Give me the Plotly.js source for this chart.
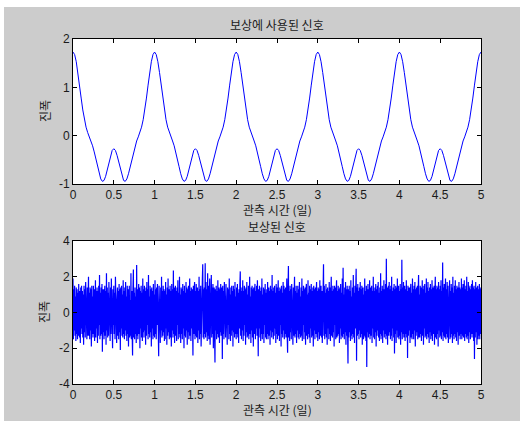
<!DOCTYPE html>
<html>
<head>
<meta charset="utf-8">
<script src="https://cdn.plot.ly/plotly-3.0.1.min.js"></script>
<style>
html,body{margin:0;padding:0;background:#ffffff;}
#fig{position:absolute;left:4px;top:7px;width:516px;height:414px;}
</style>
</head>
<body>
<div id="fig"></div>
<script>
// ---- data ----
const topTitle = "보상에 사용된 신호";
const bottomTitle = "보상된 신호";
const xLabel = "관측 시간 (일)";
const yLabel = "진폭";

// reference signal, sampled every 0.02 day from 0 to 5
const refStep = 0.02;
const refSignal = [
1.73,1.678,1.53,1.309,1.046,0.778,0.532,0.33,0.176,0.064,-0.025,-0.11,-0.21,-0.336,-0.485,-0.642,-0.788,-0.895,-0.945,-0.926,-0.841,-0.706,-0.551,-0.407,-0.306,
-0.27,-0.306,-0.407,-0.551,-0.706,-0.841,-0.926,-0.945,-0.895,-0.788,-0.642,-0.485,-0.336,-0.21,-0.11,-0.025,0.064,0.176,0.33,0.532,0.778,1.046,1.309,1.53,1.678,
1.73,1.678,1.53,1.309,1.046,0.778,0.532,0.33,0.176,0.064,-0.025,-0.11,-0.21,-0.336,-0.485,-0.642,-0.788,-0.895,-0.945,-0.926,-0.841,-0.706,-0.551,-0.407,-0.306,
-0.27,-0.306,-0.407,-0.551,-0.706,-0.841,-0.926,-0.945,-0.895,-0.788,-0.642,-0.485,-0.336,-0.21,-0.11,-0.025,0.064,0.176,0.33,0.532,0.778,1.046,1.309,1.53,1.678,
1.73,1.678,1.53,1.309,1.046,0.778,0.532,0.33,0.176,0.064,-0.025,-0.11,-0.21,-0.336,-0.485,-0.642,-0.788,-0.895,-0.945,-0.926,-0.841,-0.706,-0.551,-0.407,-0.306,
-0.27,-0.306,-0.407,-0.551,-0.706,-0.841,-0.926,-0.945,-0.895,-0.788,-0.642,-0.485,-0.336,-0.21,-0.11,-0.025,0.064,0.176,0.33,0.532,0.778,1.046,1.309,1.53,1.678,
1.73,1.678,1.53,1.309,1.046,0.778,0.532,0.33,0.176,0.064,-0.025,-0.11,-0.21,-0.336,-0.485,-0.642,-0.788,-0.895,-0.945,-0.926,-0.841,-0.706,-0.551,-0.407,-0.306,
-0.27,-0.306,-0.407,-0.551,-0.706,-0.841,-0.926,-0.945,-0.895,-0.788,-0.642,-0.485,-0.336,-0.21,-0.11,-0.025,0.064,0.176,0.33,0.532,0.778,1.046,1.309,1.53,1.678,
1.73,1.678,1.53,1.309,1.046,0.778,0.532,0.33,0.176,0.064,-0.025,-0.11,-0.21,-0.336,-0.485,-0.642,-0.788,-0.895,-0.945,-0.926,-0.841,-0.706,-0.551,-0.407,-0.306,
-0.27,-0.306,-0.407,-0.551,-0.706,-0.841,-0.926,-0.945,-0.895,-0.788,-0.642,-0.485,-0.336,-0.21,-0.11,-0.025,0.064,0.176,0.33,0.532,0.778,1.046,1.309,1.53,1.678,
1.73
];

// compensated (noisy) signal, sampled every 0.005 day from 0 to 5
const noisyStep = 0.005;
const noisySignal = [
1.9,-1.5,1.3,-1.0,1.5,-1.3,0.9,-1.6,1.4,-1.2,1.3,-1.5,1.1,-1.3,1.6,-0.7,-1.4,1.2,-1.7,1.4,-0.9,1.5,-1.2,1.2,-1.4,
1.0,-1.8,1.5,-1.1,1.3,-1.4,1.7,-0.7,1.2,-1.5,1.4,-1.3,0.7,2.0,-1.3,1.1,-1.5,1.4,-1.0,1.3,-1.9,1.5,-1.2,0.9,-1.4,
1.5,-1.2,1.3,-1.6,1.0,1.8,-1.4,1.2,-0.9,1.4,-1.7,1.2,-1.3,1.5,-0.7,2.1,-1.5,1.1,-1.3,1.4,-1.2,1.6,-2.2,1.3,-1.1,
1.3,-1.5,0.9,1.5,-1.3,1.2,-1.8,2.2,-1.0,1.4,-1.4,1.1,-1.3,1.7,-0.9,1.2,-1.6,1.4,-1.2,1.9,-1.4,1.0,-2.0,1.3,-0.7,
1.5,-1.2,1.1,-1.5,2.0,-1.0,1.3,-1.7,0.7,1.4,-1.3,1.2,-1.5,1.6,-1.1,1.3,-2.1,1.4,-0.9,1.5,-1.3,1.0,-1.4,1.8,-1.2,
1.2,-1.5,1.4,-1.0,1.7,-1.3,0.9,-1.6,1.5,-1.2,1.3,-1.9,1.1,1.5,-1.4,0.7,-1.3,2.2,-1.5,1.2,-1.1,-2.4,1.3,2.4,-1.4,
1.1,-1.5,1.4,-1.2,0.9,-1.7,2.65,-1.3,1.3,-1.5,1.0,1.6,-1.2,1.4,-2.0,1.2,-0.9,1.5,-1.4,1.1,-1.6,1.9,-1.1,1.3,-1.4,
1.5,-1.0,1.2,-1.8,1.4,-1.3,1.7,-0.7,1.3,-1.5,2.1,-1.2,0.9,-1.4,1.5,-1.1,1.3,-1.9,1.4,-0.9,1.2,-1.5,1.6,-1.3,1.0,
-1.4,1.8,-1.2,1.3,-1.5,1.4,-0.7,1.6,-1.3,1.1,-2.45,1.5,-1.2,0.9,-1.7,1.4,-1.0,2.0,-1.4,1.2,-1.3,1.5,-1.1,1.3,-1.6,
1.2,-1.5,1.7,-0.9,1.0,-1.8,1.4,-1.3,1.9,-1.1,1.3,-1.5,0.7,1.5,-1.4,1.2,-1.9,1.6,-1.0,1.3,-1.4,2.35,-1.2,1.4,-1.7,
0.9,1.5,-1.3,1.2,-1.6,1.4,-0.7,1.8,-1.5,1.1,-1.2,2.0,-1.4,1.0,-1.7,1.4,-1.2,1.3,-1.5,1.6,-0.9,1.2,-2.0,1.5,-1.3,
1.1,-1.4,1.7,-1.0,1.4,-1.8,1.3,-1.1,1.5,-1.5,0.7,1.9,-1.3,1.2,-1.6,1.4,-0.9,1.3,-1.4,-2.4,1.5,-1.2,1.0,1.7,-1.5,
1.2,-1.3,1.6,-1.4,0.9,1.4,-1.7,1.2,-1.0,2.0,-1.5,1.3,-1.2,1.5,-1.9,1.1,-0.7,1.8,2.7,-1.4,1.3,-1.5,1.4,-1.2,2.75,
-1.4,1.7,-1.1,1.3,-1.6,2.2,-1.3,1.5,-1.5,1.0,1.9,-1.8,1.2,-0.9,2.1,-1.4,1.4,-1.2,1.6,-2.0,1.1,1.4,-1.3,-2.8,1.3,
-1.0,1.5,-1.5,1.2,-1.2,1.8,-1.4,0.9,1.4,-1.7,1.3,-1.1,1.6,-1.3,0.7,1.4,-2.6,1.5,-1.2,1.2,-1.5,1.7,-0.9,1.3,-1.4,
1.6,-1.3,1.1,-1.8,1.4,-0.7,1.3,-1.5,1.9,-1.2,1.0,-1.6,1.4,-1.3,1.5,-1.0,1.2,-1.9,1.5,-1.1,1.3,-1.4,1.7,-1.2,0.9,
-1.5,1.4,-1.2,1.6,-1.4,1.1,-1.7,1.3,-0.9,1.5,2.3,-1.3,1.2,-1.5,1.4,-1.0,1.8,-1.6,1.2,-1.3,1.5,-0.7,1.3,-1.8,1.4,
-1.1,1.7,-1.4,1.0,-1.3,1.5,-1.5,1.2,2.0,-1.2,0.9,-1.7,1.4,-1.0,1.5,-1.4,1.3,-1.9,1.4,-1.2,1.1,1.6,-1.5,1.2,-0.9,
1.5,-1.3,1.8,-1.1,-2.45,1.3,-1.4,1.5,-0.9,1.2,-1.6,1.4,-1.2,1.9,-1.5,1.0,-1.2,1.4,-1.7,1.3,-0.7,1.6,-1.4,1.1,-1.5,
1.3,-1.2,1.7,-1.5,0.9,1.4,-1.3,1.2,-1.8,1.5,-1.0,1.3,-1.4,2.1,-1.1,1.2,-1.5,1.4,-1.3,1.5,-0.9,1.1,-1.7,1.6,-1.2,
1.4,-1.5,1.0,1.8,-1.3,1.2,-1.6,1.4,-0.7,1.3,-1.9,1.5,-1.2,1.1,-1.4,1.7,-1.0,1.5,-1.5,1.3,-1.2,1.4,-1.4,0.9,1.9,
-1.3,-2.25,1.3,2.6,-1.4,1.2,-1.6,1.5,-1.1,1.3,-1.5,1.6,-0.9,1.2,-1.8,1.4,-1.3,1.0,2.0,-1.4,1.2,-1.2,1.5,-1.7,1.1,
-1.0,1.5,-1.4,1.3,-1.5,1.7,-1.2,0.9,-1.4,1.4,-1.3,1.9,-1.6,1.2,-0.7,1.5,-1.5,1.3,-1.1,1.4,-1.8,1.2,1.6,-1.3,1.0,
-1.5,1.8,-1.2,1.1,-1.4,1.5,-1.7,1.3,-0.9,1.6,-1.4,1.2,-1.3,1.4,-1.9,1.5,-1.0,1.3,-1.5,1.4,-1.2,1.0,1.7,-1.4,1.2,
-1.6,1.4,-1.1,1.3,-1.5,1.8,-1.3,0.9,1.5,-1.4,1.2,-1.7,1.4,-1.0,2.7,-1.3,1.5,-1.5,1.1,-1.2,1.6,-1.4,1.3,-1.8,1.4,
-0.9,1.2,-1.5,1.7,-1.2,1.4,-1.6,1.0,2.0,-1.3,1.2,-1.4,1.5,-1.1,1.3,-1.9,1.5,-0.7,1.4,-1.5,1.1,1.8,-1.4,1.2,-1.3,
1.5,-1.2,1.3,-1.7,1.4,-0.9,1.6,-1.5,1.1,-1.3,1.9,-1.4,2.5,-1.2,1.0,-1.5,1.4,-1.1,1.7,-1.8,1.3,-1.3,1.5,-1.0,-2.85,
1.3,-1.4,1.5,-1.1,1.2,-1.6,1.8,-1.3,0.9,-1.5,1.4,-1.2,2.1,-1.4,1.1,-1.7,1.5,-0.9,1.3,2.45,-2.7,1.4,-1.3,1.6,-1.2,
1.2,-1.5,1.4,-1.0,1.7,-1.4,1.3,-1.2,1.5,-1.8,1.1,1.4,-1.5,1.0,-1.3,1.9,-1.4,1.2,-1.6,1.5,-3.05,1.3,-1.1,1.6,-1.4,
1.3,-1.2,1.8,-1.5,1.0,1.4,-1.3,1.5,-1.7,1.2,-0.9,2.0,-1.4,1.2,-1.5,1.4,-1.1,1.6,-1.9,1.3,-1.3,1.5,-1.0,1.7,-1.4,
1.1,-1.6,1.4,-1.2,2.2,-1.5,1.2,-1.3,1.5,-1.7,1.3,-1.0,1.8,-1.4,1.3,-1.2,1.6,-1.5,3.0,-1.3,1.4,-1.8,1.2,1.5,-1.3,
1.7,-1.1,1.3,-1.5,1.5,-1.3,2.0,-1.6,1.2,-0.9,1.4,-1.4,1.6,-2.3,1.3,-1.2,1.5,-1.7,1.4,-1.0,1.9,-1.4,1.1,1.5,-1.5,
1.2,-1.3,1.6,-1.8,1.3,-1.1,2.95,-1.5,1.4,-1.2,1.7,-1.4,1.0,1.5,-1.6,1.3,-1.2,1.8,-1.4,1.2,-2.55,1.5,-1.3,1.4,-1.0,
1.4,-1.7,1.2,1.6,-1.4,1.1,-1.5,1.9,-1.2,1.3,-1.5,1.5,-1.0,1.7,-1.9,1.3,-1.3,1.4,-1.1,1.5,-1.5,1.2,2.1,-1.4,1.0,
-1.4,1.5,-1.2,1.4,-1.6,1.2,1.8,-1.3,1.3,-1.8,1.5,-0.9,1.6,-1.4,1.1,-1.3,1.9,-1.5,1.4,-1.2,1.7,-1.4,1.2,-1.7,1.4,
-1.1,1.6,-1.5,1.3,-1.3,1.8,-1.6,1.2,1.4,-1.2,1.5,-1.8,1.0,2.0,-1.4,1.3,-1.5,1.5,-1.2,1.4,-1.9,1.7,-1.0,1.3,-1.4,
1.5,-1.3,1.8,-1.5,1.2,-1.1,2.8,-1.6,1.4,-1.3,1.6,-1.4,1.2,1.9,-1.5,1.3,-1.2,1.7,-1.4,1.5,-1.7,1.3,-1.0,1.8,-1.5,
1.2,-1.4,1.6,-1.2,1.4,-1.7,2.0,-1.3,1.1,-1.5,1.5,-1.2,1.8,-1.4,1.3,-1.6,1.5,-1.1,1.4,-1.8,1.2,1.7,-1.3,1.4,-1.5,
1.3,-1.2,1.9,-1.5,1.4,-1.3,1.6,-1.4,1.1,1.8,-1.6,1.3,-1.2,1.5,-1.4,2.0,-1.5,1.2,-1.3,1.7,-1.7,1.4,-1.1,1.5,-1.5,
1.3,-1.2,1.6,-1.4,1.8,-1.2,1.4,-1.6,1.5,-2.6,1.3,-1.4,1.7,-1.1,1.4,-1.8,1.2,1.5,-1.5,1.3,-1.3,1.6,-1.5,1.4,-1.2,
1.3
];

const xTicks = [0,0.5,1,1.5,2,2.5,3,3.5,4,4.5,5];
const xTickText = ["0","0.5","1","1.5","2","2.5","3","3.5","4","4.5","5"];
const topYTicks = [-1,0,1,2];
const bottomYTicks = [-4,-2,0,2,4];

// ---- drawing ----
const txtColor = "#1a1a1a";
const tickFont = {family: "Liberation Sans, Arial, sans-serif", size: 12, color: txtColor};
const krFont = {family: "Noto Sans CJK KR, sans-serif", size: 12, color: txtColor};

function axisX(anchor) {
  return {
    range: [0, 5], anchor: anchor, tickmode: "array", tickvals: xTicks, ticktext: xTickText,
    ticks: "inside", ticklen: 4, tickcolor: "#000", tickwidth: 1,
    showline: true, linecolor: "#000", linewidth: 1, mirror: "ticks",
    showgrid: false, zeroline: false, tickfont: tickFont, fixedrange: true
  };
}
function axisY(anchor, range, vals, domain) {
  return {
    range: range, anchor: anchor, domain: domain, tickmode: "array", tickvals: vals,
    ticktext: vals.map(String),
    ticks: "inside", ticklen: 4, tickcolor: "#000", tickwidth: 1,
    showline: true, linecolor: "#000", linewidth: 1, mirror: "ticks",
    showgrid: false, zeroline: false, tickfont: tickFont, fixedrange: true
  };
}

const traces = [
  {type: "scatter", mode: "lines", x0: 0, dx: refStep, y: refSignal,
   xaxis: "x", yaxis: "y", line: {color: "#0000ff", width: 1}, hoverinfo: "skip"},
  {type: "scatter", mode: "lines", x0: 0, dx: noisyStep, y: noisySignal,
   xaxis: "x2", yaxis: "y2", line: {color: "#0000ff", width: 1.2}, hoverinfo: "skip"}
];

const layout = {
  width: 516, height: 414,
  margin: {l: 69, r: 39, t: 32, b: 37, pad: 0},
  paper_bgcolor: "#cccccc", plot_bgcolor: "#ffffff",
  showlegend: false,
  xaxis: axisX("y"),
  yaxis: axisY("x", [-1, 2], topYTicks, [0.5797, 1]),
  xaxis2: axisX("y2"),
  yaxis2: axisY("x2", [-4, 4], bottomYTicks, [0, 0.4145]),
  annotations: [
    {text: topTitle, xref: "paper", yref: "paper", x: 0.5, y: 1.0406, showarrow: false, xanchor: "center", yanchor: "middle", font: krFont},
    {text: xLabel, xref: "paper", yref: "paper", x: 0.5, y: 0.505, showarrow: false, xanchor: "center", yanchor: "middle", font: krFont},
    {text: bottomTitle, xref: "paper", yref: "paper", x: 0.5, y: 0.456, showarrow: false, xanchor: "center", yanchor: "middle", font: krFont},
    {text: xLabel, xref: "paper", yref: "paper", x: 0.5, y: -0.0745, showarrow: false, xanchor: "center", yanchor: "middle", font: krFont},
    {text: yLabel, xref: "paper", yref: "paper", x: -0.0711, y: 0.7913, showarrow: false, xanchor: "center", yanchor: "middle", textangle: -90, font: krFont},
    {text: yLabel, xref: "paper", yref: "paper", x: -0.0711, y: 0.2087, showarrow: false, xanchor: "center", yanchor: "middle", textangle: -90, font: krFont}
  ]
};

Plotly.newPlot("fig", traces, layout, {staticPlot: true, displayModeBar: false});
</script>
</body>
</html>
